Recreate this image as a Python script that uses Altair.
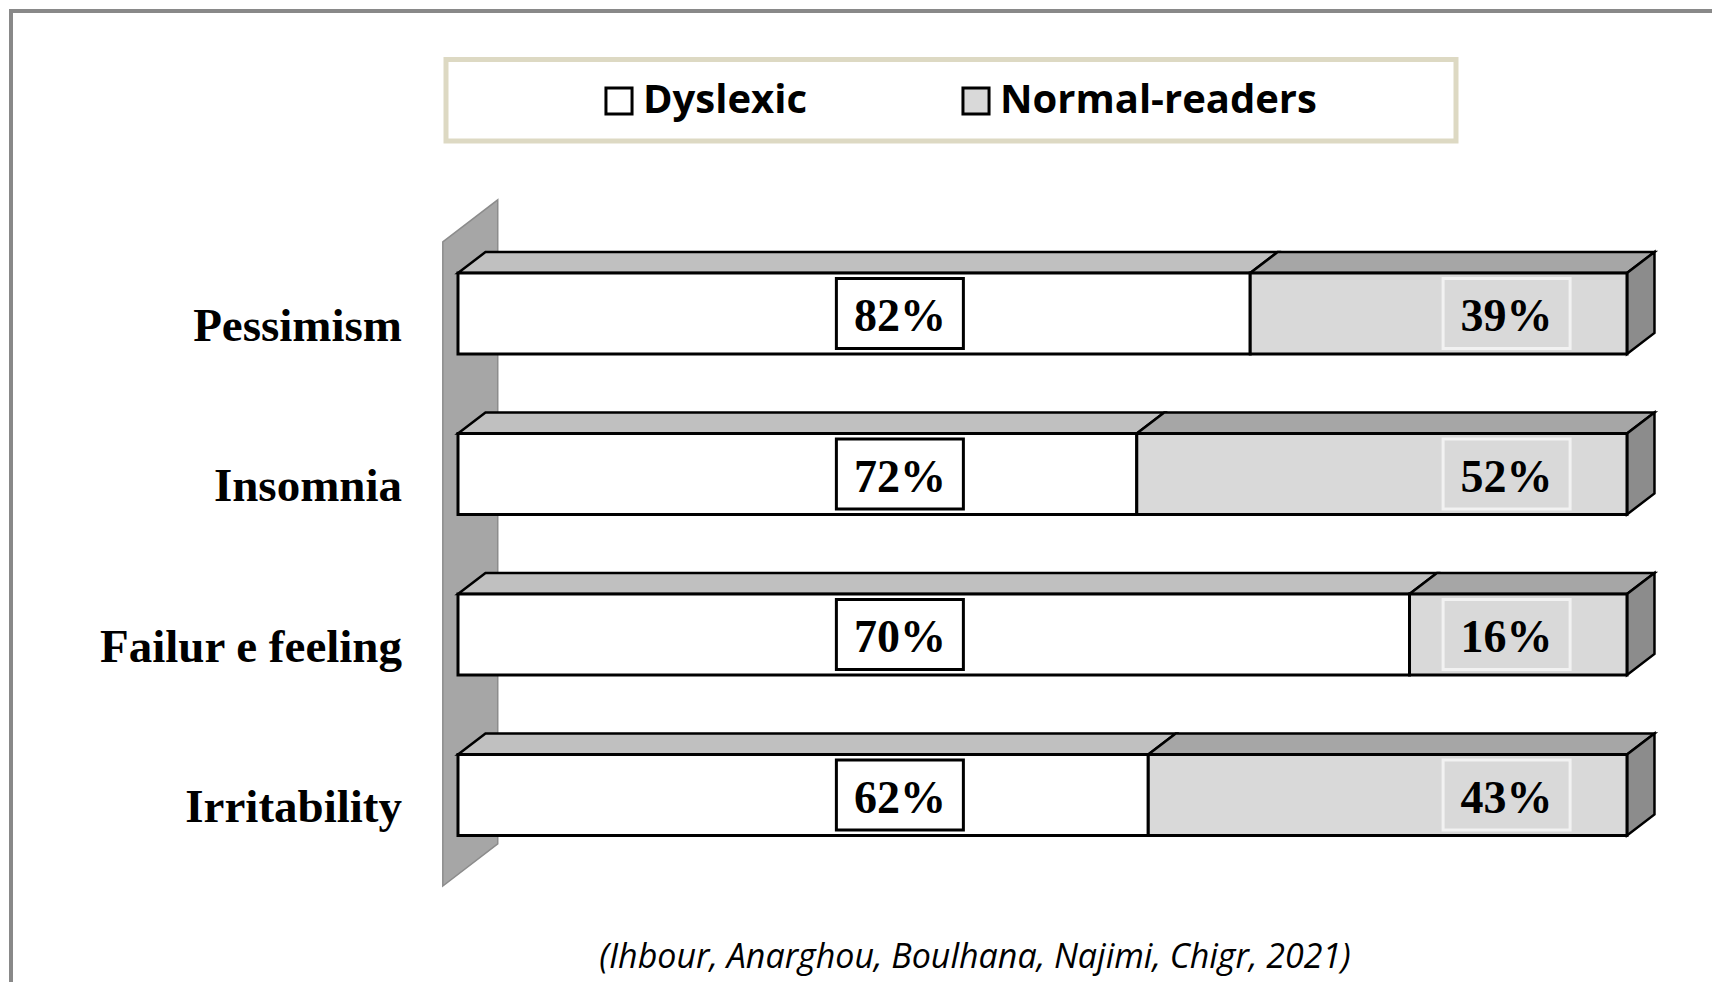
import altair as alt
import pandas as pd

# ---------------- data ----------------
categories = ["Pessimism", "Insomnia", "Failur e feeling", "Irritability"]
dyslexic = [82, 72, 70, 62]
normal_readers = [39, 52, 16, 43]
series_names = ["Dyslexic", "Normal-readers"]
citation = "(Ihbour, Anarghou, Boulhana, Najimi, Chigr, 2021)"

# ---------------- style / geometry ----------------
H = 0.252      # half bar thickness (row units)
DX = 0.0235    # 3D depth, x (share units)
DY = 0.131     # 3D depth, y (row units)
LABEL_POS = {"Dyslexic": 0.378, "Normal-readers": 0.897}
FRONT = {"Dyslexic": "#ffffff", "Normal-readers": "#d9d9d9"}
TOP = {"Dyslexic": "#c0c0c0", "Normal-readers": "#a6a6a6"}
BOX_FILL = {"Dyslexic": "#ffffff", "Normal-readers": "#d9d9d9"}
BOX_STROKE = {"Dyslexic": "#000000", "Normal-readers": "#f2f2f2"}
WALL_X0, WALL_TOP, WALL_BOTTOM = -0.013, -0.446, 3.567

front_rows, top_rows, side_rows = [], [], []
for r, (cat, d, n) in enumerate(zip(categories, dyslexic, normal_readers)):
    total = d + n
    bounds = [(0.0, d / total), (d / total, 1.0)]
    for s, v, (a, b) in zip(series_names, [d, n], bounds):
        front_rows.append(dict(cat=cat, row=r, series=s, label=f"{v}%",
                               x0=a, x1=b, y0=r - H, y1=r + H,
                               lx=LABEL_POS[s], bfill=BOX_FILL[s], bstroke=BOX_STROKE[s]))
        seg = f"{r}-{s}"
        top_rows.append(dict(seg=seg, ty=r - H, xa=a, xb=b, fill=TOP[s]))
        top_rows.append(dict(seg=seg, ty=r - H - DY, xa=a + DX, xb=b + DX, fill=TOP[s]))
    side_rows.append(dict(row=r, sx=1.0, sy=r - H, sy2=r + H))
    side_rows.append(dict(row=r, sx=1.0 + DX, sy=r - H - DY, sy2=r + H - DY))

front_df = pd.DataFrame(front_rows)
top_df = pd.DataFrame(top_rows)
side_df = pd.DataFrame(side_rows)
wall_df = pd.DataFrame([
    dict(sx=WALL_X0, sy=WALL_TOP, sy2=WALL_BOTTOM),
    dict(sx=WALL_X0 + 2 * DX, sy=WALL_TOP - 2 * DY, sy2=WALL_BOTTOM - 2 * DY),
])
cat_df = pd.DataFrame(dict(cat=categories, row=list(range(len(categories)))))
one = pd.DataFrame(dict(t=[citation]))

xs = alt.Scale(domain=[0, 1], range=[450, 1619], nice=False, zero=False)
ys = alt.Scale(domain=[0, 3], range=[305.5, 787], nice=False, zero=False)

frame = alt.Chart(one).mark_rect(fill="transparent", stroke="#898989", strokeWidth=4).encode(
    x=alt.value(3), x2=alt.value(1760), y=alt.value(3), y2=alt.value(1040))

legend_box = alt.Chart(one).mark_rect(fill="white", stroke="#ddd9c3", strokeWidth=5).encode(
    x=alt.value(438), x2=alt.value(1448), y=alt.value(51.5), y2=alt.value(133))

wall = alt.Chart(wall_df).mark_area(orient="vertical", color="#a6a6a6", stroke="#8c8c8c",
                                    strokeWidth=1.5).encode(
    x=alt.X("sx:Q", scale=xs, axis=None),
    y=alt.Y("sy:Q", scale=ys, axis=None, stack=None),
    y2="sy2:Q")

top = alt.Chart(top_df).mark_area(orient="horizontal", stroke="black", strokeWidth=2.5).encode(
    y=alt.Y("ty:Q", scale=ys, axis=None),
    x=alt.X("xa:Q", scale=xs, axis=None, stack=None),
    x2="xb:Q",
    fill=alt.Fill("fill:N", scale=None),
    detail="seg:N")

side = alt.Chart(side_df).mark_area(orient="vertical", color="#8c8c8c", stroke="black",
                                    strokeWidth=2.5).encode(
    x=alt.X("sx:Q", scale=xs, axis=None),
    y=alt.Y("sy:Q", scale=ys, axis=None, stack=None),
    y2="sy2:Q",
    detail="row:N")

front = alt.Chart(front_df).mark_rect(stroke="black", strokeWidth=3).encode(
    x=alt.X("x0:Q", scale=xs, axis=None),
    x2="x1:Q",
    y=alt.Y("y0:Q", scale=ys, axis=None),
    y2="y1:Q",
    fill=alt.Fill("series:N",
                  scale=alt.Scale(domain=series_names, range=[FRONT[s] for s in series_names]),
                  legend=alt.Legend(orient="none", legendX=591, legendY=73, direction="horizontal",
                                    title=None, symbolType="square", symbolSize=680,
                                    symbolStrokeColor="black", symbolStrokeWidth=3,
                                    symbolOpacity=1, labelFont="Open Sans", labelFontSize=40,
                                    labelFontWeight="bold", labelColor="black", labelOffset=4,
                                    labelLimit=500, columnPadding=149)))

boxes = alt.Chart(front_df).mark_rect(strokeWidth=3, xOffset=-63.5, x2Offset=63.5,
                                      yOffset=-35, y2Offset=35).encode(
    x=alt.X("lx:Q", scale=xs, axis=None),
    x2="lx:Q",
    y=alt.Y("row:Q", scale=ys, axis=None),
    y2="row:Q",
    fill=alt.Fill("bfill:N", scale=None),
    stroke=alt.Stroke("bstroke:N", scale=None))

pct = alt.Chart(front_df).mark_text(font="Liberation Serif", fontWeight="bold", fontSize=46,
                                    align="center", baseline="alphabetic", dy=17.5,
                                    color="black").encode(
    x=alt.X("lx:Q", scale=xs, axis=None),
    y=alt.Y("row:Q", scale=ys, axis=None),
    text="label:N")

cat_labels = alt.Chart(cat_df).mark_text(font="Liberation Serif", fontWeight="bold", fontSize=47,
                                         align="right", baseline="alphabetic", dx=-56, dy=27,
                                         color="black").encode(
    x=alt.X(datum=0, scale=xs, axis=None),
    y=alt.Y("row:Q", scale=ys, axis=None),
    text="cat:N")

cite = alt.Chart(one).mark_text(font="Open Sans", fontStyle="italic", fontSize=34,
                                align="center", baseline="alphabetic", color="black").encode(
    x=alt.value(967), y=alt.value(960), text="t:N")

chart = alt.layer(
    frame, legend_box, wall, top, side, front, boxes, pct, cat_labels, cite
).resolve_scale(fill="independent", stroke="independent").properties(
    width=1704, height=974, autosize=alt.AutoSizeParams(type="none"), padding=0,
    background="white"
).configure_view(stroke=None)

chart.save("out.html", embed_options={"renderer": "svg", "actions": False})
